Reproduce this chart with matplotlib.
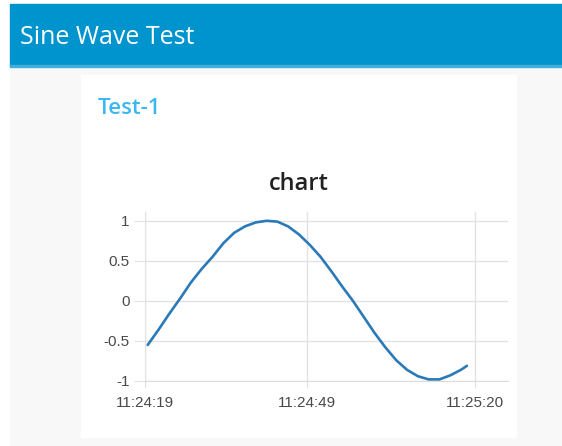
import matplotlib
matplotlib.use("Agg")
import matplotlib.pyplot as plt
import matplotlib.dates as mdates
from matplotlib.patches import Rectangle
import pandas as pd

# data (seconds after 11:24:19, value)
start = "2024-01-01 11:24:19"
seconds = [0.5, 2.5, 4.5, 6.5, 8.5, 10.5, 12.5, 14.5, 16.5, 18.5, 20.5, 22.5,
           24.5, 26.5, 28.5, 30.5, 32.5, 34.5, 36.5, 38.5, 40.5, 42.5, 44.5,
           46.5, 48.5, 50.5, 52.5, 54.5, 56.5, 58.5, 59.6]
values = [-0.55, -0.36, -0.16, 0.03, 0.23, 0.40, 0.55, 0.72, 0.85, 0.93, 0.98,
          1.00, 0.99, 0.93, 0.83, 0.70, 0.55, 0.37, 0.18, 0.00, -0.20, -0.40,
          -0.58, -0.74, -0.86, -0.94, -0.98, -0.98, -0.93, -0.86, -0.81]
tick_labels = ["11:24:19", "11:24:49", "11:25:20"]
y_ticks = [-1, -0.5, 0, 0.5, 1]
y_tick_labels = ["-1", "-0.5", "0", "0.5", "1"]

W, H = 562, 446
fig = plt.figure(figsize=(W / 100, H / 100), dpi=100)
fig.patch.set_facecolor("white")


def px_rect(x0, y0, x1, y1, color):
    # rectangle given in pixel coords from the top-left corner
    fig.patches.append(Rectangle((x0 / W, 1 - y1 / H), (x1 - x0) / W, (y1 - y0) / H,
                                 transform=fig.transFigure, color=color, zorder=-1))


px_rect(10, 67, W, 445, "#f8f8f8")
px_rect(10, 4, W, 66, "#0094ce")
px_rect(10, 65, W, 67, "#3fb0de")
px_rect(81, 75, 516, 437, "white")

font = ["Open Sans", "DejaVu Sans"]
fig.text(20 / W, 1 - 37 / H, "Sine Wave Test", color="white", fontsize=18,
         family=font, va="center", ha="left")
fig.text(98 / W, 1 - 109 / H, "Test-1", color="#3cb8f0", fontsize=16,
         family=font, fontweight="semibold", va="center", ha="left")
fig.text(299 / W, 1 - 184 / H, "chart", color="#222222", fontsize=17,
         family=font, fontweight="semibold", va="center", ha="center")

t0 = pd.Timestamp(start)
times = [t0 + pd.Timedelta(seconds=s) for s in seconds]
ticks = [pd.Timestamp("2024-01-01 " + lab) for lab in tick_labels]

ax = fig.add_axes([145 / W, 1 - 381 / H, (508 - 145) / W, (381 - 212) / H])
ax.set_facecolor("white")
ax.plot(times, values, color="#2a7ab8", linewidth=1.9, solid_capstyle="round")

ax.set_xlim(t0, t0 + pd.Timedelta(seconds=67.2))
ax.set_ylim(-1, 1.11)
ax.set_xticks(ticks)
ax.xaxis.set_major_formatter(mdates.DateFormatter("%H:%M:%S"))
ax.set_yticks(y_ticks)
ax.set_yticklabels(y_tick_labels)

ax.grid(True, color="#e3e3e3", linewidth=1)
ax.set_axisbelow(True)
for side in ["top", "right"]:
    ax.spines[side].set_visible(False)
ax.spines["left"].set_color("#e3e3e3")
ax.spines["bottom"].set_color("#dcdcdc")
ax.tick_params(axis="y", length=8, color="#e3e3e3", labelcolor="#4a4a4a",
               labelsize=11, pad=3)
ax.tick_params(axis="x", length=5, color="#e3e3e3", labelcolor="#4a4a4a",
               labelsize=11, pad=6)
for lab in ax.get_xticklabels() + ax.get_yticklabels():
    lab.set_family(["Liberation Sans", "DejaVu Sans"])

fig.savefig("out.png", dpi=100)
